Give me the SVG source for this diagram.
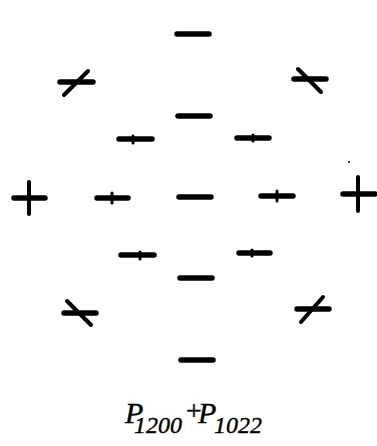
<svg xmlns="http://www.w3.org/2000/svg" width="377" height="446" viewBox="0 0 377 446">
<style>
.s{stroke:#000;stroke-width:5.5;stroke-linecap:round;fill:none}
.t{stroke:#000;stroke-width:4;stroke-linecap:round;fill:none}
.k{stroke:#000;stroke-width:3;stroke-linecap:round;fill:none}
.txt{font-family:"Liberation Serif","Times New Roman",serif;font-style:italic;fill:#000;stroke:#000;stroke-width:0.4}
</style>
<rect width="377" height="446" fill="#fff"/>
<g id="top-dash"><line class="s" x1="177" y1="34" x2="209" y2="34"/></g>
<g id="ul-slashed"><line class="s" x1="60" y1="82" x2="93" y2="82"/><line class="t" x1="64" y1="95" x2="88" y2="71"/></g>
<g id="ur-slashed"><line class="s" x1="294" y1="79" x2="326" y2="79"/><line class="t" x1="298" y1="69" x2="321" y2="92"/></g>
<g id="dash-2"><line class="s" x1="178" y1="116" x2="210" y2="116"/></g>
<g id="l-dash-2"><line class="s" x1="119" y1="139" x2="152" y2="139"/><line class="k" x1="133" y1="136" x2="133" y2="143"/></g>
<g id="r-dash-2"><line class="s" x1="237" y1="138" x2="269" y2="138"/><line class="k" x1="253" y1="135" x2="253" y2="141"/></g>
<g id="dot"><circle cx="349" cy="162" r="1" fill="#000"/></g>
<g id="l-plus"><line class="s" x1="14" y1="198" x2="45" y2="198"/><line class="t" x1="29" y1="182" x2="29" y2="214"/></g>
<g id="l-dash-3"><line class="s" x1="97" y1="198" x2="128" y2="198"/><line class="k" x1="112" y1="193" x2="112" y2="203"/></g>
<g id="c-dash"><line class="s" x1="179" y1="197" x2="211" y2="197"/></g>
<g id="r-dash-3"><line class="s" x1="261" y1="196" x2="293" y2="196"/><line class="k" x1="277" y1="191" x2="277" y2="201"/></g>
<g id="r-plus"><line class="s" x1="343" y1="194" x2="375" y2="194"/><line class="t" x1="358" y1="177" x2="358" y2="211"/></g>
<g id="l-dash-4"><line class="s" x1="121" y1="255" x2="154" y2="255"/><line class="k" x1="140" y1="252" x2="140" y2="259"/></g>
<g id="r-dash-4"><line class="s" x1="239" y1="253" x2="270" y2="253"/><line class="k" x1="252" y1="250" x2="252" y2="256"/></g>
<g id="dash-5"><line class="s" x1="180" y1="278" x2="212" y2="278"/></g>
<g id="ll-slashed"><line class="s" x1="64" y1="313" x2="96" y2="313"/><line class="t" x1="67" y1="301" x2="91" y2="325"/></g>
<g id="lr-slashed"><line class="s" x1="297" y1="309" x2="329" y2="309"/><line class="t" x1="301" y1="322" x2="323" y2="297"/></g>
<g id="bottom-dash"><line class="s" x1="181" y1="360" x2="213" y2="360"/></g>
<g id="label">
<text class="txt" x="125" y="423" font-size="30"><tspan>P</tspan><tspan x="134" dy="10" font-size="24">1200</tspan><tspan x="186" dy="-13" font-size="28" font-style="normal">+</tspan><tspan x="198" dy="3">P</tspan><tspan x="214" dy="10" font-size="24">1022</tspan></text>
</g>
</svg>
